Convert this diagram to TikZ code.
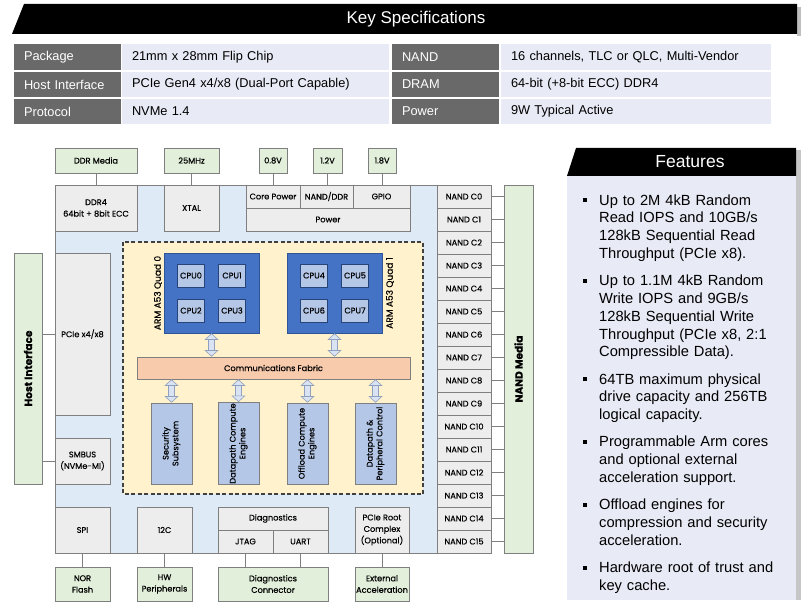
\documentclass[tikz,border=0pt]{standalone}
\usepackage{fontspec}
\setmainfont{Liberation Sans}
\newfontfamily\chipfont{Poppins}[FakeBold=0.5]
\usepackage{tikz}
\usetikzlibrary{positioning,arrows.meta}

\definecolor{keygray}{HTML}{696969}
\definecolor{cellblue}{HTML}{E8EAF5}
\definecolor{chipblue}{HTML}{DEEAF6}
\definecolor{coreyellow}{HTML}{FFF2CC}
\definecolor{mediagreen}{HTML}{E2EFDA}
\definecolor{blockgray}{HTML}{EDEDED}
\definecolor{linegray}{HTML}{7F7F7F}
\definecolor{quadblue}{HTML}{4472C4}
\definecolor{quadedge}{HTML}{2F5597}
\definecolor{cpublue}{HTML}{B4C7E7}
\definecolor{fabricpeach}{HTML}{F8CBAD}
\definecolor{busfill}{HTML}{DAE3F3}
\definecolor{busedge}{HTML}{8FA0BC}

\newcommand{\vtext}[1]{\rotatebox{90}{\renewcommand{\arraystretch}{0.85}\begin{tabular}{@{}c@{}}#1\end{tabular}}}
\newcommand{\featbullet}{\llap{\rule[3pt]{4pt}{4pt}\hspace{12pt}}}

\begin{document}
\begin{tikzpicture}[x=1pt, y=-1pt,
    blk/.style={draw=linegray, line width=0.6pt, align=center, inner sep=1pt,
      font=\chipfont\fontsize{8.2}{11.5}\selectfont},
    gbox/.style={blk, fill=blockgray},
    media/.style={blk, fill=mediagreen},
    quad/.style={blk, draw=quadedge, fill=quadblue, minimum width=95, minimum height=80},
    cpu/.style={blk, draw=quadedge!80!black, fill=cpublue, minimum width=27, minimum height=23},
    engine/.style={blk, fill=cpublue, minimum width=41, minimum height=81},
    nandc/.style={gbox, minimum width=54, minimum height=23},
    wire/.style={draw=linegray, line width=0.6pt},
    bus/.style={draw=busedge, line width=0.6pt, double=busfill, double distance=5.5pt,
      {Triangle[open, fill=busfill, width=14pt, length=6.5pt]}-{Triangle[open, fill=busfill, width=14pt, length=6.5pt]}},
    keycell/.style={fill=keygray, text=white, minimum height=25.5, text width=87,
      inner xsep=10pt, inner ysep=0pt, align=left, font=\fontsize{12.8}{15}\selectfont},
    valcell/.style={keycell, fill=cellblue, text=black},
    fitem/.style={anchor=north west, text width=190, inner sep=0pt, align=left,
      font=\fontsize{14.7}{17.8}\selectfont}]
  \useasboundingbox (0,0) rectangle (801,604);
  \fill[white] (0,0) rectangle (801,604);

  % key specifications
  \fill[gray!50] (797,7) rectangle (801,36);
  \fill[black] (24,4) -- (797,4) -- (797,34) -- (12,34) -- cycle;
  \node[text=white, font=\fontsize{17}{20}\selectfont] (spectitle) at (416,19.5) {Key Specifications};
  \foreach \y/\ka/\va/\kb/\vb [count=\r] in {
      57/Package/21mm x 28mm Flip Chip/NAND/{16 channels, TLC or QLC, Multi-Vendor},
      84.5/Host Interface/{PCIe Gen4 x4/x8 (Dual-Port Capable)}/DRAM/{64-bit (+8-bit ECC) DDR4},
      111.5/Protocol/NVMe 1.4/Power/9W Typical Active}{
    \node[keycell] (ka\r) at (67.5,\y) {\ka};
    \node[valcell, text width=247] (va\r) at (255.5,\y) {\va};
    \node[keycell] (kb\r) at (445.5,\y) {\kb};
    \node[valcell, text width=250] (vb\r) at (636,\y) {\vb};
  }

  % features
  \fill[gray!45] (796,150) rectangle (801,600);
  \fill[cellblue] (567,176) rectangle (796,600);
  \fill[black] (576,148) -- (796,148) -- (796,176) -- (567,176) -- cycle;
  \node[text=white, font=\fontsize{17.5}{20}\selectfont] (feattitle) at (690,162) {Features};
  \node[fitem] (f1) at (599,192.5) {\strut\featbullet Up to 2M 4kB Random\\Read IOPS and 10GB/s\\128kB Sequential Read\\Throughput (PCIe x8).\strut};
  \node[fitem, below=9pt of f1] (f2) {\strut\featbullet Up to 1.1M 4kB Random\\Write IOPS and 9GB/s\\128kB Sequential Write\\Throughput (PCIe x8, 2:1\\Compressible Data).\strut};
  \node[fitem, below=9pt of f2] (f3) {\strut\featbullet 64TB maximum physical\\drive capacity and 256TB\\logical capacity.\strut};
  \node[fitem, below=9pt of f3] (f4) {\strut\featbullet Programmable Arm cores\\and optional external\\acceleration support.\strut};
  \node[fitem, below=9pt of f4] (f5) {\strut\featbullet Offload engines for\\compression and security\\acceleration.\strut};
  \node[fitem, below=9pt of f5] (f6) {\strut\featbullet Hardware root of trust and\\key cache.\strut};

  % controller
  \draw[wire, fill=chipblue] (55,185) rectangle (437,553);
  \draw[dash pattern=on 4pt off 2.5pt, line width=1.3pt, draw=black!75, fill=coreyellow] (123,242) rectangle (423,494);

  \node[media, minimum width=82, minimum height=25] (ddrmedia) at (96,160.5) {DDR Media};
  \node[media, minimum width=55, minimum height=25] (clk) at (191.5,160.5) {25MHz};
  \node[media, minimum width=28, minimum height=25] (v08) at (273,160.5) {0.8V};
  \node[media, minimum width=29, minimum height=25] (v12) at (327.5,160.5) {1.2V};
  \node[media, minimum width=28, minimum height=25] (v18) at (382,160.5) {1.8V};

  \node[gbox, minimum width=82, minimum height=46] (ddr4) at (96,208) {DDR4\\64bit + 8bit ECC};
  \node[gbox, minimum width=55, minimum height=46] (xtal) at (191.5,208) {XTAL};
  \node[gbox, minimum width=54, minimum height=23] (corepwr) at (273,196.5) {Core Power};
  \node[gbox, minimum width=53, minimum height=23] (nanddd) at (326.5,196.5) {NAND/DDR};
  \node[gbox, minimum width=57, minimum height=23] (gpio) at (381.5,196.5) {GPIO};
  \node[gbox, minimum width=164, minimum height=23] (power) at (328,219.5) {Power};
  \node[gbox, minimum width=55, minimum height=162] (pcie) at (82.5,334) {PCIe x4/x8};
  \node[gbox, minimum width=55, minimum height=46] (smbus) at (82.5,461) {SMBUS\\(NVMe-MI)};
  \node[gbox, minimum width=55, minimum height=46] (spi) at (82.5,530) {SPI};
  \node[gbox, minimum width=55, minimum height=46] (i2c) at (164.5,530) {12C};
  \node[gbox, minimum width=110, minimum height=23] (diag) at (273,518.5) {Diagnostics};
  \node[gbox, minimum width=55, minimum height=23] (jtag) at (245.5,541.5) {JTAG};
  \node[gbox, minimum width=55, minimum height=23] (uart) at (300.5,541.5) {UART};
  \node[gbox, minimum width=54, minimum height=46] (pcieroot) at (382,530) {PCIe Root\\Complex\\(Optional)};

  \node[media, minimum width=55, minimum height=34] (norflash) at (82.5,584) {NOR\\Flash};
  \node[media, minimum width=55, minimum height=34] (hwper) at (164.5,584) {HW\\Peripherals};
  \node[media, minimum width=110, minimum height=34] (diagconn) at (273,584) {Diagnostics\\Connector};
  \node[media, minimum width=54, minimum height=34] (extacc) at (382,584) {External\\Acceleration};
  \node[media, minimum width=28, minimum height=231, font=\chipfont\fontsize{10.5}{12}\selectfont\bfseries] (host) at (28,368.5) {\rotatebox{90}{Host Interface}};
  \node[media, minimum width=29, minimum height=368, font=\chipfont\fontsize{10.5}{12}\selectfont\bfseries] (nandmedia) at (518.5,369) {\rotatebox{90}{NAND Media}};

  % arm clusters
  \node[quad] (quad0) at (211.5,293) {};
  \node[quad] (quad1) at (334.5,293) {};
  \node[cpu] (cpu0) at (191,275.5) {CPU0};
  \node[cpu] (cpu1) at (232,275.5) {CPU1};
  \node[cpu] (cpu2) at (191,310.5) {CPU2};
  \node[cpu] (cpu3) at (232,310.5) {CPU3};
  \node[cpu] (cpu4) at (314,275.5) {CPU4};
  \node[cpu] (cpu5) at (355,275.5) {CPU5};
  \node[cpu] (cpu6) at (314,310.5) {CPU6};
  \node[cpu] (cpu7) at (355,310.5) {CPU7};
  \node[font=\chipfont\fontsize{9}{10}\selectfont, inner sep=0pt] (q0lbl) at (158,293) {\rotatebox{90}{ARM A53 Quad 0}};
  \node[font=\chipfont\fontsize{9}{10}\selectfont, inner sep=0pt] (q1lbl) at (390,293) {\rotatebox{90}{ARM A53 Quad 1}};

  \node[blk, fill=fabricpeach, minimum width=273, minimum height=22] (fabric) at (273.5,368) {Communications Fabric};
  \node[engine] (security) at (171.5,443.5) {\vtext{Security\\Subsystem}};
  \node[engine] (dpce) at (238.5,443.5) {\vtext{Datapath Compute\\Engines}};
  \node[engine] (offload) at (307.5,443.5) {\vtext{Offload Compute\\Engines}};
  \node[engine] (dppc) at (375.5,443.5) {\vtext{Datapath \&\\Peripheral Control}};

  % nand channels
  \foreach \i in {0,...,15}{
    \node[nandc] (nc\i) at (464,{196.5+23*\i}) {NAND C\i};
    \draw[wire] (nc\i.east) -- (nc\i.east -| nandmedia.west);
  }

  \draw[wire] (ddrmedia) -- (ddr4);
  \draw[wire] (clk) -- (xtal);
  \draw[wire] (v08) -- (v08 |- corepwr.north);
  \draw[wire] (v12) -- (v12 |- nanddd.north);
  \draw[wire] (v18) -- (v18 |- gpio.north);
  \draw[wire] (pcie.west) -- (pcie.west -| host.east);
  \draw[wire] (smbus.west) -- (smbus.west -| host.east);
  \draw[wire] (spi) -- (norflash);
  \draw[wire] (i2c) -- (hwper);
  \draw[wire] (jtag) -- (jtag |- diagconn.north);
  \draw[wire] (uart) -- (uart |- diagconn.north);
  \draw[wire] (pcieroot) -- (extacc);

  \foreach \b in {quad0,quad1}
    \draw[bus] (\b) -- (\b |- fabric.north);
  \foreach \b in {security,dpce,offload,dppc}
    \draw[bus] (\b) -- (\b |- fabric.south);
\end{tikzpicture}
\end{document}
